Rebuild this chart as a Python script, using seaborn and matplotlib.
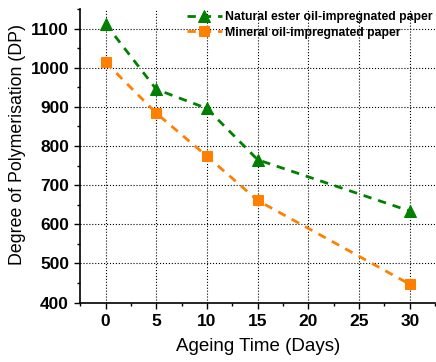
import numpy as np
import pandas as pd
import matplotlib
matplotlib.use("Agg")
import matplotlib.pyplot as plt
from matplotlib.ticker import MultipleLocator
import seaborn as sns


# =========================
# DATA
# =========================

days = [0, 5, 10, 15, 30]

natural_ester_dp = [1112, 945, 896, 765, 634]

mineral_oil_dp = [1014, 884, 774, 661, 447]

series_names = [
    "Natural ester oil-impregnated paper",
    "Mineral oil-impregnated paper"
]


# =========================
# STYLE
# =========================

sns.set_style("white")

plt.rcParams["font.family"] = ["Liberation Sans", "DejaVu Sans"]
plt.rcParams["text.color"] = "black"
plt.rcParams["axes.labelcolor"] = "black"
plt.rcParams["xtick.color"] = "black"
plt.rcParams["ytick.color"] = "black"

fig = plt.figure(figsize=(4.36, 3.62), dpi=100)

ax = fig.add_axes([0.184, 0.164, 0.814, 0.811])


# =========================
# PLOT
# =========================

sns.lineplot(
    x=days,
    y=natural_ester_dp,
    ax=ax,
    color="#008000",
    marker="^",
    markersize=8,
    markeredgecolor="#008000",
    linewidth=2,
    dashes=False,
    label=series_names[0]
)

sns.lineplot(
    x=days,
    y=mineral_oil_dp,
    ax=ax,
    color="#FF8000",
    marker="s",
    markersize=7,
    markeredgecolor="#FF8000",
    linewidth=2,
    dashes=False,
    label=series_names[1]
)

for line in ax.get_lines():
    line.set_linestyle((0, (3, 2.5)))


# =========================
# AXES
# =========================

ax.set_xlim(-2.5, 32.5)
ax.set_ylim(400, 1150)

ax.xaxis.set_major_locator(MultipleLocator(5))
ax.xaxis.set_minor_locator(MultipleLocator(2.5))
ax.yaxis.set_major_locator(MultipleLocator(100))
ax.yaxis.set_minor_locator(MultipleLocator(50))

ax.tick_params(
    axis="both",
    which="major",
    direction="out",
    length=4,
    width=1,
    labelsize=12.5,
    pad=4,
    colors="black",
    left=True,
    bottom=True
)

ax.tick_params(
    axis="both",
    which="minor",
    direction="out",
    length=2.5,
    width=1,
    colors="black",
    left=True,
    bottom=True
)

for label in ax.get_xticklabels() + ax.get_yticklabels():
    label.set_fontweight("bold")

ax.grid(True, which="major", color="black", linestyle=":", linewidth=0.8)

for side in ["top", "right"]:
    ax.spines[side].set_visible(False)

for side in ["left", "bottom"]:
    ax.spines[side].set_color("black")
    ax.spines[side].set_linewidth(1.2)

ax.set_xlabel("Ageing Time (Days)", fontsize=13.5, labelpad=7, color="black")
ax.set_ylabel("Degree of Polymerisation (DP)", fontsize=12.8, color="black")
ax.yaxis.set_label_coords(-0.152, 0.54)


# =========================
# LEGEND
# =========================

legend = ax.legend(
    loc="upper right",
    frameon=False,
    prop={"weight": "bold", "size": 8.8},
    handlelength=2.8,
    handletextpad=0.3,
    labelspacing=0.25,
    borderaxespad=0.0,
    borderpad=0.2
)

for text in legend.get_texts():
    text.set_color("black")

plt.savefig("out.png", dpi=100)

plt.close()
